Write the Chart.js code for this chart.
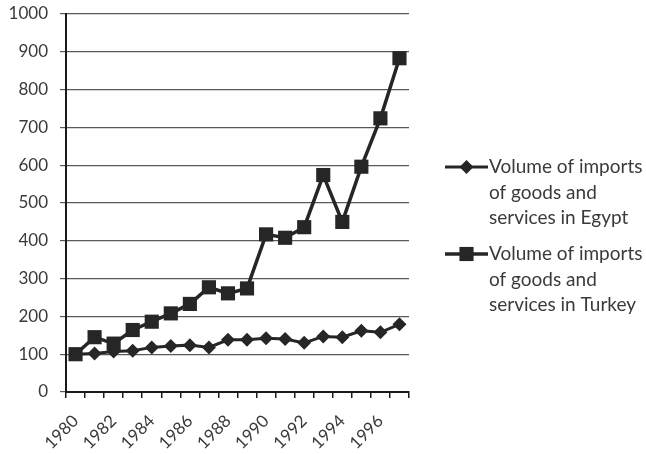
<!DOCTYPE html>
<html>
<head>
<meta charset="utf-8">
<script src="https://cdn.jsdelivr.net/npm/chart.js@4.4.0/dist/chart.umd.min.js"></script>
<style>
html, body { margin: 0; padding: 0; background: #fff; }
#wrap { width: 646px; height: 454px; }
</style>
</head>
<body>
<div id="wrap"><canvas id="lineChart" width="646" height="454"></canvas></div>
<script>
// years on the x axis
const years = ['1980', '1981', '1982', '1983', '1984', '1985', '1986', '1987', '1988',
    '1989', '1990', '1991', '1992', '1993', '1994', '1995', '1996', '1997'];

// import volume index
const egyptImports = [100, 102, 107, 109, 118, 122, 124, 118, 138, 138, 142, 140, 130, 147, 145, 162, 158, 179];
const turkeyImports = [100, 145, 128, 164, 186, 208, 233, 277, 261, 274, 417, 408, 436, 574, 450, 596, 724, 883];

// legend texts, one entry per line
const egyptLabel = ['Volume of imports', 'of goods and', 'services in Egypt'];
const turkeyLabel = ['Volume of imports', 'of goods and', 'services in Turkey'];

const ink = '#262626';
const textColor = '#3a3a3a';
const fontFamily = 'Lato, "Open Sans", sans-serif';

// legend on the right: line with marker, text wrapped over three lines
const sideLegend = {
    id: 'sideLegend',
    afterDraw (chart) {
        const ctx = chart.ctx;
        const lineX0 = 445;
        const lineX1 = 488;
        const textX = 489;
        const firstY = 167;
        const itemGap = 87;
        const lineGap = 25.5;

        ctx.save();
        ctx.font = '19px ' + fontFamily;
        ctx.textBaseline = 'middle';
        ctx.textAlign = 'left';

        chart.data.datasets.forEach(function (ds, i) {
            const y = firstY + i * itemGap;

            // the little line
            ctx.strokeStyle = ds.borderColor;
            ctx.lineWidth = ds.borderWidth;
            ctx.beginPath();
            ctx.moveTo(lineX0, y);
            ctx.lineTo(lineX1, y);
            ctx.stroke();

            // marker in the middle
            ctx.fillStyle = ds.pointBackgroundColor;
            Chart.helpers.drawPoint(ctx, {
                pointStyle: ds.pointStyle,
                radius: ds.pointRadius,
                borderWidth: 0,
                rotation: 0
            }, 466.5, y);

            // text lines
            ctx.fillStyle = textColor;
            ds.label.forEach(function (line, j) {
                ctx.fillText(line, textX, y + j * lineGap);
            });
        });
        ctx.restore();
    }
};

const data = {
    labels: years,
    datasets: [
        {
            label: egyptLabel,
            data: egyptImports,
            borderColor: ink,
            backgroundColor: ink,
            borderWidth: 3,
            pointStyle: 'rectRot',
            pointRadius: 7,
            pointBackgroundColor: ink,
            pointBorderWidth: 0,
            tension: 0,
            order: 1
        },
        {
            label: turkeyLabel,
            data: turkeyImports,
            borderColor: ink,
            backgroundColor: ink,
            borderWidth: 3.5,
            pointStyle: 'rect',
            pointRadius: 10,
            pointBackgroundColor: ink,
            pointBorderWidth: 0,
            tension: 0,
            order: 0
        }
    ]
};

const config = {
    type: 'line',
    data: data,
    options: {
        responsive: false,
        devicePixelRatio: 1,
        animation: false,
        layout: {
            padding: { left: 0, top: 14, right: 237, bottom: 0 }
        },
        plugins: {
            legend: { display: false },
            tooltip: { enabled: false }
        },
        scales: {
            x: {
                type: 'category',
                offset: true,
                afterFit (scale) { scale.height = 62; },
                grid: {
                    offset: true,
                    drawOnChartArea: false,
                    drawTicks: true,
                    tickLength: 6,
                    color: '#1a1a1a',
                    lineWidth: 1.5
                },
                border: { color: '#1a1a1a', width: 2 },
                ticks: {
                    autoSkip: false,
                    minRotation: 45,
                    maxRotation: 45,
                    padding: 13,
                    color: textColor,
                    font: { family: fontFamily, size: 17 },
                    callback: function (value, index) {
                        return index % 2 === 0 ? years[index] : '';
                    }
                }
            },
            y: {
                min: 0,
                max: 1000,
                afterFit (scale) {
                    scale.width = 66;
                    scale.paddingTop = 0;
                    scale.paddingBottom = 0;
                },
                grid: {
                    color: '#5a5a5a',
                    lineWidth: 1.2,
                    tickLength: 6
                },
                border: { color: '#1a1a1a', width: 2 },
                ticks: {
                    stepSize: 100,
                    padding: 12,
                    color: textColor,
                    font: { family: fontFamily, size: 17 },
                    callback: function (value) {
                        return String(value);
                    }
                }
            }
        }
    },
    plugins: [sideLegend]
};

const myChart = new Chart(
    document.getElementById('lineChart'),
    config
);
</script>
</body>
</html>
